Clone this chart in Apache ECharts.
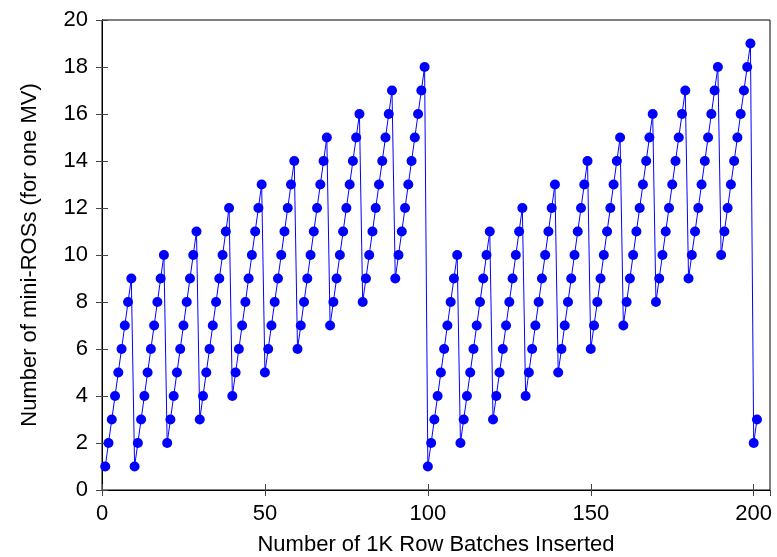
<!DOCTYPE html>
<html>
<head>
<meta charset="utf-8">
<script src="https://cdn.jsdelivr.net/npm/echarts@6/dist/echarts.min.js"></script>
<style>
  html, body { margin: 0; padding: 0; background: #fff; }
  #chart { width: 777px; height: 557px; }
</style>
</head>
<body>
<div id="chart"></div>
<script>
// mini-ROS count after each 1K row batch, batch 1..201
const miniRos = [
  1, 2, 3, 4, 5, 6, 7, 8, 9,
  1, 2, 3, 4, 5, 6, 7, 8, 9, 10,
  2, 3, 4, 5, 6, 7, 8, 9, 10, 11,
  3, 4, 5, 6, 7, 8, 9, 10, 11, 12,
  4, 5, 6, 7, 8, 9, 10, 11, 12, 13,
  5, 6, 7, 8, 9, 10, 11, 12, 13, 14,
  6, 7, 8, 9, 10, 11, 12, 13, 14, 15,
  7, 8, 9, 10, 11, 12, 13, 14, 15, 16,
  8, 9, 10, 11, 12, 13, 14, 15, 16, 17,
  9, 10, 11, 12, 13, 14, 15, 16, 17, 18,
  1, 2, 3, 4, 5, 6, 7, 8, 9, 10,
  2, 3, 4, 5, 6, 7, 8, 9, 10, 11,
  3, 4, 5, 6, 7, 8, 9, 10, 11, 12,
  4, 5, 6, 7, 8, 9, 10, 11, 12, 13,
  5, 6, 7, 8, 9, 10, 11, 12, 13, 14,
  6, 7, 8, 9, 10, 11, 12, 13, 14, 15,
  7, 8, 9, 10, 11, 12, 13, 14, 15, 16,
  8, 9, 10, 11, 12, 13, 14, 15, 16, 17,
  9, 10, 11, 12, 13, 14, 15, 16, 17, 18,
  10, 11, 12, 13, 14, 15, 16, 17, 18, 19,
  2, 3
];
const firstBatch = 1;
const xTicks = [0, 50, 100, 150, 200];
const yTicks = [0, 2, 4, 6, 8, 10, 12, 14, 16, 18, 20];

const FONT = 'Liberation Sans, Arial, sans-serif';
const FONT_SIZE = 22;
const points = miniRos.map((v, i) => [firstBatch + i, v]);

const chart = echarts.init(document.getElementById('chart'));

// gnuplot style: ticks point into the plot on all four sides
const makeTick = () => ({show: true, inside: true, length: 6, lineStyle: {color: '#444', width: 1}});
const makeLine = () => ({show: true, lineStyle: {color: '#000', width: 1}});

chart.setOption({
  animation: false,
  grid: {
    left: 102, right: 7, top: 20, bottom: 67,
    outerBoundsMode: 'none',
    containLabel: false,
    show: true, borderColor: '#000', borderWidth: 1
  },
  xAxis: [
    {
      type: 'value', min: 0, max: 205, interval: 50,
      name: 'Number of 1K Row Batches Inserted',
      nameLocation: 'middle', nameGap: 44,
      nameTextStyle: {fontFamily: FONT, fontSize: FONT_SIZE, color: '#000'},
      axisLine: makeLine(),
      axisTick: makeTick(),
      axisLabel: {
        fontFamily: FONT, fontSize: FONT_SIZE, color: '#000', margin: 13,
        showMaxLabel: false,
        formatter: v => xTicks.includes(v) ? String(v) : ''
      },
      splitLine: {show: false}
    },
    {
      type: 'value', position: 'top', min: 0, max: 205, interval: 50,
      axisLine: makeLine(),
      axisTick: makeTick(),
      axisLabel: {show: false},
      splitLine: {show: false}
    }
  ],
  yAxis: [
    {
      type: 'value', min: 0, max: 20, interval: 2,
      name: 'Number of mini-ROSs (for one MV)',
      nameLocation: 'middle', nameGap: 61,
      nameTextStyle: {fontFamily: FONT, fontSize: FONT_SIZE, color: '#000'},
      axisLine: makeLine(),
      axisTick: makeTick(),
      axisLabel: {
        fontFamily: FONT, fontSize: FONT_SIZE, color: '#000', margin: 14,
        formatter: v => yTicks.includes(v) ? String(v) : ''
      },
      splitLine: {show: false}
    },
    {
      type: 'value', position: 'right', min: 0, max: 20, interval: 2,
      axisLine: makeLine(),
      axisTick: makeTick(),
      axisLabel: {show: false},
      splitLine: {show: false}
    }
  ],
  series: [{
    type: 'line',
    data: points,
    symbol: 'circle',
    symbolSize: 10,
    showAllSymbol: true,
    lineStyle: {color: '#0000ff', width: 1},
    itemStyle: {color: '#0000ff'}
  }]
});
</script>
</body>
</html>
